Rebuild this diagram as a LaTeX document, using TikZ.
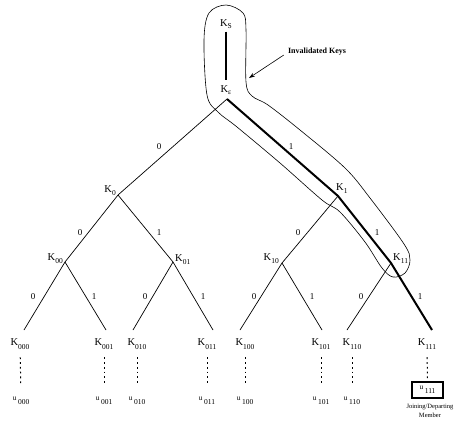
\documentclass[tikz,border=0pt]{standalone}
\usepackage{fontspec}
\setmainfont{Liberation Serif}
\usetikzlibrary{arrows.meta}
\newcommand{\Kl}[2][-4pt]{K\raisebox{#1}{\fontsize{7.5}{7.5}\selectfont #2}}
\newcommand{\Ul}[2][-4pt]{{\fontsize{7.5}{7.5}\selectfont u}\raisebox{#1}{\fontsize{7.5}{7.5}\selectfont\hspace{1.5pt}#2}}
\begin{document}
\begin{tikzpicture}[x=1pt,y=-1pt,
  thinedge/.style={line width=0.7pt},
  hot/.style={line width=2pt},
  outline/.style={line width=0.6pt},
  klab/.style={inner sep=0pt,font=\fontsize{10.5}{10.5}\selectfont},
  ulab/.style={inner sep=0pt},
  elab/.style={inner sep=0pt,font=\fontsize{9}{9}\selectfont},
  dots/.style={line width=1pt,dash pattern=on 1.8pt off 3pt,shorten <=8pt,shorten >=11pt},
  note/.style={inner sep=0pt,font=\fontsize{8}{8}\selectfont\bfseries},
  small/.style={inner sep=0pt,font=\fontsize{6.5}{9}\selectfont,align=center}
  ]
\useasboundingbox (0,0) rectangle (455,424);
% invalidated keys outline
\draw[outline] plot[smooth cycle,tension=0.55] coordinates {(226,5) (243,13) (246,30) (246,82) (252,96) (268,105) (300,130) (345,168) (370,198) (404,244) (410,260) (405,273) (393,277) (382,268) (365,242) (340,212) (322,200) (280,163) (237,127) (218,112) (207,95) (204,40) (209,13)};
% tree vertices
\coordinate (e) at (227,99);
\coordinate (k0) at (118,195);
\coordinate (k1) at (338,196);
\coordinate (k00) at (65,262);
\coordinate (k01) at (173,262);
\coordinate (k10) at (282,263);
\coordinate (k11) at (391,263);
\coordinate (l000) at (24,330);
\coordinate (l001) at (106,330);
\coordinate (l010) at (133,330);
\coordinate (l011) at (213,330);
\coordinate (l100) at (240,330);
\coordinate (l101) at (322,330);
\coordinate (l110) at (347,330);
\coordinate (l111) at (432,330);
% key labels
\node[klab] (KS) at (226,24) {\Kl[-2pt]{S}};
\node[klab] (Ke) at (226,90) {\Kl[-2pt]{ε}};
\node[klab,anchor=east] (K0) at (116,191) {\Kl[-3pt]{0}};
\node[klab,anchor=west] (K1) at (336,189) {\Kl[-3pt]{1}};
\node[klab,anchor=east] (K00) at (63,259) {\Kl[-3pt]{00}};
\node[klab,anchor=west] (K01) at (175,260) {\Kl[-3pt]{01}};
\node[klab,anchor=east] (K10) at (279,259) {\Kl[-3pt]{10}};
\node[klab,anchor=west] (K11) at (393,259) {\Kl[-3pt]{11}};
\node[klab,anchor=base] (K000) at (20,345) {\Kl{000}};
\node[klab,anchor=base] (K001) at (104,345) {\Kl{001}};
\node[klab,anchor=base] (K010) at (137,345) {\Kl{010}};
\node[klab,anchor=base] (K011) at (207,345) {\Kl{011}};
\node[klab,anchor=base] (K100) at (245,345) {\Kl{100}};
\node[klab,anchor=base] (K101) at (321,345) {\Kl{101}};
\node[klab,anchor=base] (K110) at (352,345) {\Kl{110}};
\node[klab,anchor=base] (K111) at (427,345) {\Kl{111}};
% members
\node[ulab,anchor=base] (u000) at (21,400) {\Ul{000}};
\node[ulab,anchor=base] (u001) at (104,400) {\Ul{001}};
\node[ulab,anchor=base] (u010) at (137,400) {\Ul{010}};
\node[ulab,anchor=base] (u011) at (207,400) {\Ul{011}};
\node[ulab,anchor=base] (u100) at (245,400) {\Ul{100}};
\node[ulab,anchor=base] (u101) at (321,400) {\Ul{101}};
\node[ulab,anchor=base] (u110) at (352,400) {\Ul{110}};
\node[draw,line width=1.3pt,minimum width=31pt,minimum height=16pt,inner sep=0pt] (u111) at (427.5,390) {\Ul{111}};
% edges
\draw[hot,shorten <=3pt,shorten >=5pt] (KS) -- (Ke);
\draw[hot] (e) -- (k1) -- (k11) -- (l111);
\draw[thinedge] (e) -- (k0);
\draw[thinedge] (k0) -- (k00);
\draw[thinedge] (k0) -- (k01);
\draw[thinedge] (k1) -- (k10);
\draw[thinedge] (k00) -- (l000);
\draw[thinedge] (k00) -- (l001);
\draw[thinedge] (k01) -- (l010);
\draw[thinedge] (k01) -- (l011);
\draw[thinedge] (k10) -- (l100);
\draw[thinedge] (k10) -- (l101);
\draw[thinedge] (k11) -- (l110);
% edge labels
\node[elab] (b1) at (159,147) {0};
\node[elab] (b2) at (291,147) {1};
\node[elab] (b3) at (80,233) {0};
\node[elab] (b4) at (159,233) {1};
\node[elab] (b5) at (298,233) {0};
\node[elab] (b6) at (377,233) {1};
\node[elab] (b7) at (33,297) {0};
\node[elab] (b8) at (94,297) {1};
\node[elab] (b9) at (145,297) {0};
\node[elab] (b10) at (203,297) {1};
\node[elab] (b11) at (254,297) {0};
\node[elab] (b12) at (312,297) {1};
\node[elab] (b13) at (361,297) {0};
\node[elab] (b14) at (420,297) {1};
% dotted key-member links
\draw[dots] (K000) -- (u000);
\draw[dots] (K001) -- (u001);
\draw[dots] (K010) -- (u010);
\draw[dots] (K011) -- (u011);
\draw[dots] (K100) -- (u100);
\draw[dots] (K101) -- (u101);
\draw[dots] (K110) -- (u110);
\draw[dots,shorten >=1pt] (K111) -- (u111);
% annotations
\node[note] (inv) at (317,52) {Invalidated Keys};
\coordinate (tip) at (249,78);
\draw[line width=0.6pt,-{Stealth[length=6pt,width=4pt]}] ([shift={(-4,3)}]inv.west) -- (tip);
\node[small,anchor=north] (jd) at (430,404) {Joining/Departing\\Member};
\end{tikzpicture}
\end{document}
